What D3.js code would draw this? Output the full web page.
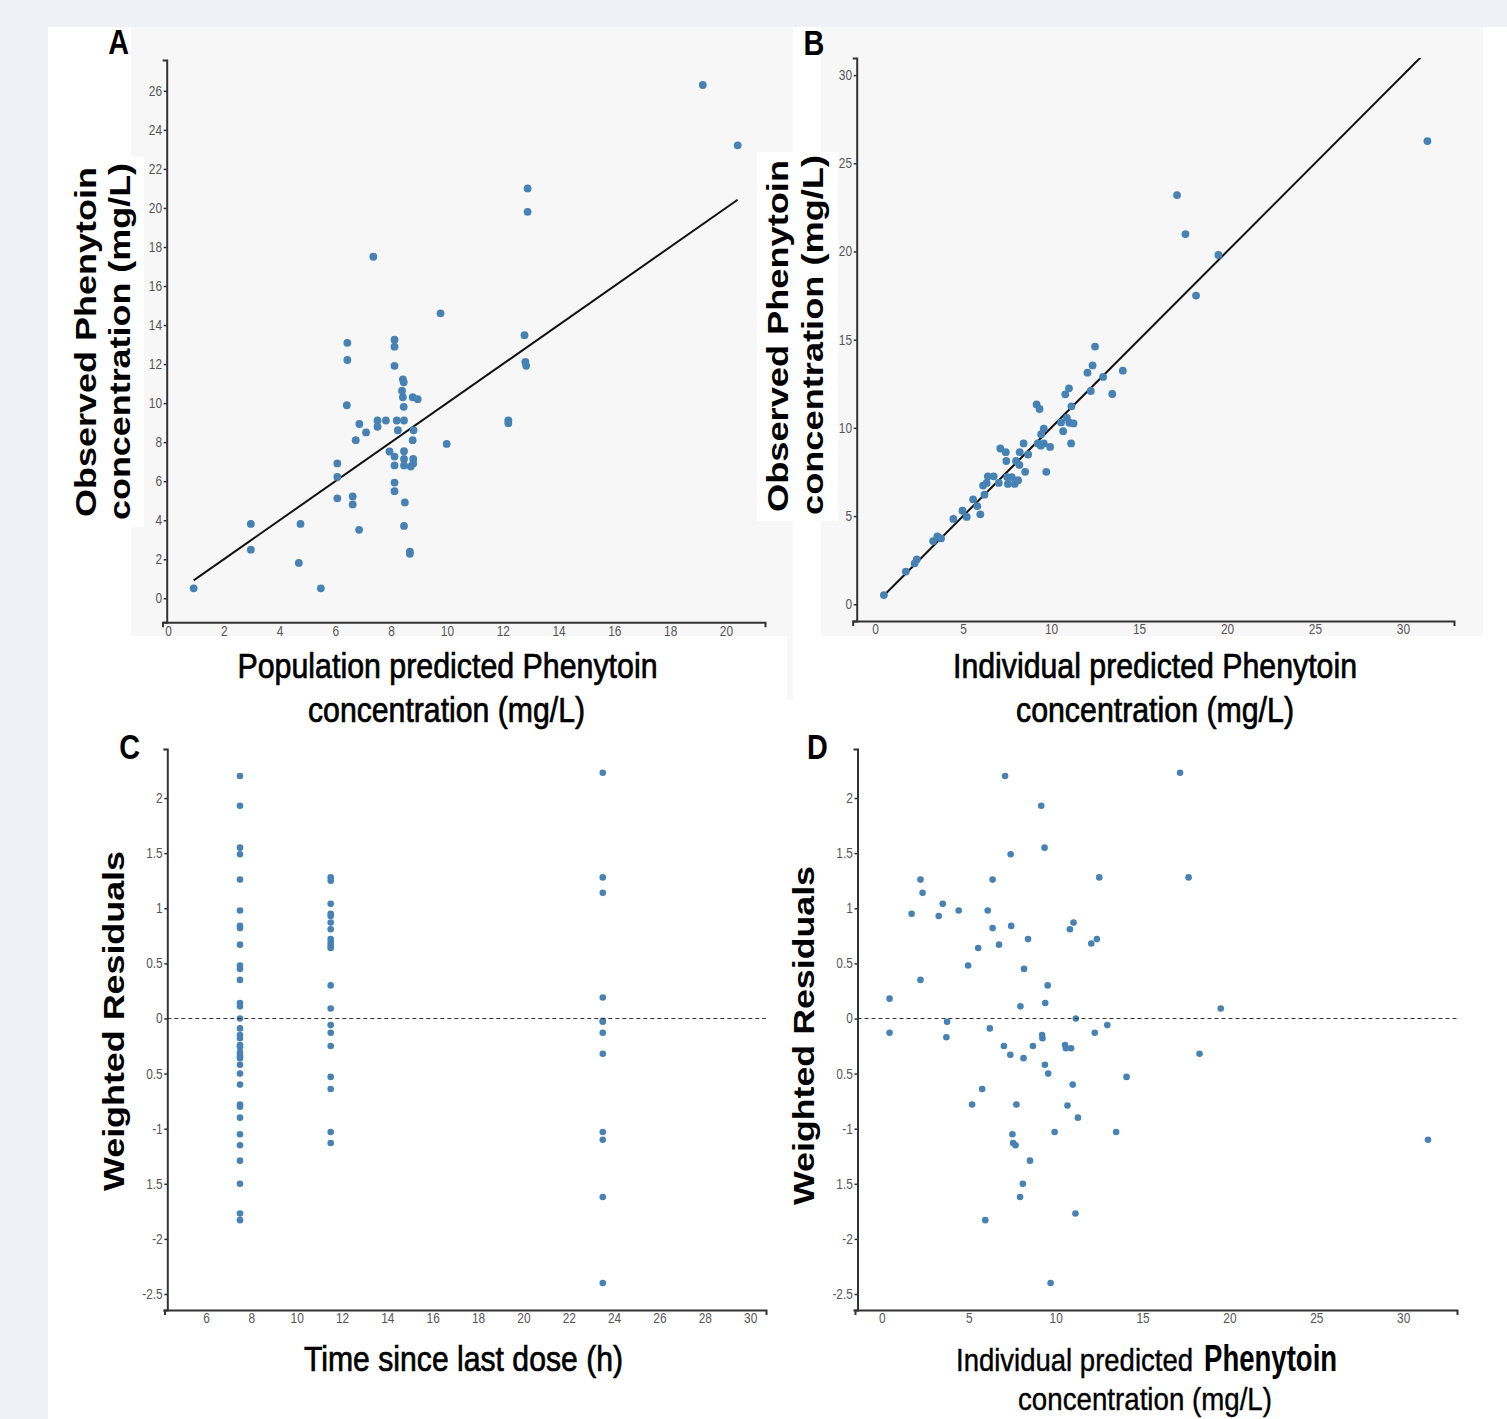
<!DOCTYPE html>
<html><head><meta charset="utf-8">
<script src="https://cdn.jsdelivr.net/npm/d3@7"></script>
<style>
html,body{margin:0;padding:0;background:#eff1f7;}
svg{display:block;}
</style></head><body>
<svg id="fig" width="1507" height="1419"></svg>
<script>
// ---------------- DATA ----------------
// Panel A: population predicted vs observed
const predA = [0.92,2.97,2.97,4.69,4.75,5.48,6.07,6.07,6.07,6.43,6.43,6.41,6.62,6.62,6.73,6.85,6.86,7.10,7.36,7.51,7.51,7.81,7.94,8.12,8.12,8.12,8.12,8.12,8.12,8.12,8.20,8.24,8.42,8.45,8.39,8.42,8.45,8.46,8.46,8.46,8.46,8.49,8.46,8.67,8.67,8.70,8.79,8.79,8.77,8.80,8.77,8.95,9.77,9.99,12.20,12.20,12.78,12.81,12.84,12.89,12.89,19.17,20.42];
const obsA  = [0.51,3.81,2.49,1.81,3.81,0.51,6.91,6.22,5.12,13.09,12.21,9.89,5.22,4.81,8.10,3.51,8.93,8.50,17.50,9.11,8.79,9.11,7.52,13.25,12.89,11.91,7.26,6.81,5.93,5.49,9.11,8.61,11.22,11.07,10.64,10.30,9.81,9.11,7.54,7.14,6.81,4.91,3.71,2.39,2.28,6.75,7.14,6.91,8.10,8.61,10.30,10.20,14.60,7.91,9.11,8.97,13.48,12.11,11.91,21.00,19.80,26.30,23.21];

// Panel B: individual predicted vs observed
const ipredB = [0.50,1.75,2.25,2.37,3.30,3.54,3.75,4.45,4.97,5.21,5.57,5.81,5.98,6.22,6.14,6.41,6.34,6.74,7.03,7.12,7.43,7.46,7.51,7.55,7.77,7.94,8.01,8.13,8.20,8.22,8.44,8.53,8.70,9.18,9.35,9.25,9.42,9.44,9.59,9.59,9.73,9.95,10.57,10.69,10.81,10.90,11.02,11.04,11.14,11.16,11.28,12.07,12.26,12.36,12.50,12.96,13.48,14.08,17.16,17.64,18.24,19.51,31.39];
const obsB   = [0.52,1.85,2.32,2.54,3.58,3.84,3.73,4.84,5.30,4.95,5.95,5.56,5.10,6.21,6.73,7.25,6.88,7.25,6.88,8.83,8.62,8.12,7.21,6.82,7.21,6.82,8.12,7.03,7.90,8.62,9.12,7.51,8.49,11.33,11.07,9.12,8.99,9.64,9.96,9.12,7.51,8.92,10.31,9.81,11.90,10.57,12.24,10.29,9.12,11.22,10.25,13.13,12.09,13.54,14.61,12.89,11.92,13.24,23.20,20.99,17.50,19.80,26.26];

// Panel C: weighted residuals by time since last dose (h)
const timeGroupsC = [7.5, 11.5, 23.5];
const wresC_7h  = [2.20,1.93,1.55,1.49,1.26,0.98,0.84,0.82,0.67,0.48,0.45,0.35,0.14,0.11,0.00,-0.09,-0.15,-0.18,-0.24,-0.26,-0.31,-0.34,-0.36,-0.42,-0.50,-0.60,-0.78,-0.80,-0.90,-1.05,-1.15,-1.29,-1.50,-1.77,-1.83];
const wresC_11h = [1.28,1.25,1.04,0.95,0.93,0.87,0.81,0.72,0.69,0.66,0.64,0.30,0.09,-0.06,-0.13,-0.25,-0.53,-0.64,-1.03,-1.13];
const wresC_23h = [2.23,1.28,1.14,0.19,-0.02,-0.03,-0.13,-0.32,-1.03,-1.10,-1.62,-2.40];

// Panel D: weighted residuals vs individual predicted
const ipredD = [0.44,0.44,1.71,2.22,2.34,2.22,3.27,3.50,3.75,3.71,4.42,4.96,5.19,5.54,5.77,5.95,6.09,6.21,6.37,6.37,6.74,7.02,7.09,7.41,7.44,7.39,7.51,7.55,7.69,7.74,7.97,7.95,8.11,8.18,8.15,8.41,8.52,8.69,9.17,9.22,9.24,9.36,9.38,9.40,9.54,9.57,9.71,9.94,10.54,10.59,10.68,10.82,10.89,10.98,11.03,11.14,11.16,11.28,12.05,12.25,12.37,12.51,12.97,13.48,14.08,17.16,17.65,18.28,19.50,31.43];
const wresD  = [0.18,-0.13,0.95,1.26,1.14,0.35,0.93,1.04,-0.03,-0.17,0.98,0.48,-0.78,0.64,-0.64,-1.83,0.98,-0.09,1.26,0.82,0.67,-0.25,2.20,1.49,0.84,-0.33,-1.05,-1.13,-1.15,-0.78,0.11,-1.62,-1.50,0.45,-0.36,0.72,-1.29,-0.25,1.93,-0.15,-0.18,1.55,-0.42,0.14,0.30,-0.50,-2.40,-1.03,-0.24,-0.27,-0.79,0.81,-0.27,-0.60,0.87,-1.77,0.00,-0.90,0.68,-0.13,0.72,1.28,-0.06,-1.03,-0.53,2.23,1.28,-0.32,0.09,-1.10];

// Tick values
const xTicksA = [0,2,4,6,8,10,12,14,16,18,20];
const yTicksA = [0,2,4,6,8,10,12,14,16,18,20,22,24,26];
const ticksB  = [0,5,10,15,20,25,30];
const xTicksC = [6,8,10,12,14,16,18,20,22,24,26,28,30];
const xTicksD = [0,5,10,15,20,25,30];
const yTicksRes = [-2.5,-2,-1.5,-1,-0.5,0,0.5,1,1.5,2];

// Texts
const panelLetters = ["A","B","C","D"];
const yTitleObs = ["Observed Phenytoin","concentration (mg/L)"];
const yTitleRes = "Weighted Residuals";
const xTitleA = ["Population predicted Phenytoin","concentration (mg/L)"];
const xTitleB = ["Individual predicted Phenytoin","concentration (mg/L)"];
const xTitleC = "Time since last dose (h)";
const xTitleD = ["Individual predicted","Phenytoin","concentration (mg/L)"];

// ---------------- DRAW ----------------
const FONT = "'Liberation Sans', Arial, Helvetica, sans-serif";
const svg = d3.select("#fig");
const DOT = "#4682b4";

// backgrounds
svg.append("rect").attr("x",48).attr("y",27).attr("width",1459).attr("height",1392).attr("fill","#fff");
svg.append("rect").attr("x",131).attr("y",27).attr("width",662).attr("height",609).attr("fill","#f7f7f7");
svg.append("rect").attr("x",787).attr("y",636).attr("width",6).attr("height",64).attr("fill","#f7f7f7");
svg.append("rect").attr("x",821).attr("y",27).attr("width",662).attr("height",609).attr("fill","#f7f7f7");

const fmt = d => String(d);
let clipId = 0;

function panel(cfg) {
  const x = d3.scaleLinear().domain(cfg.xDomain).range(cfg.xRange);
  const y = d3.scaleLinear().domain(cfg.yDomain).range(cfg.yRange);
  const g = svg.append("g");

  const id = "clip" + (clipId++);
  g.append("clipPath").attr("id", id).append("rect")
    .attr("x", cfg.yAxisX).attr("y", cfg.yRange[1])
    .attr("width", cfg.xRange[1] - cfg.yAxisX).attr("height", cfg.yRange[0] - cfg.yRange[1]);

  const xa = g.append("g").attr("transform", `translate(0,${cfg.yRange[0]})`)
    .call(d3.axisBottom(x).tickValues(cfg.xTicks).tickFormat(fmt)
      .tickSizeInner(0).tickSizeOuter(5).tickPadding(3.5));
  const ya = g.append("g").attr("transform", `translate(${cfg.yAxisX},0)`)
    .call(d3.axisLeft(y).tickValues(cfg.yTicks).tickFormat(fmt)
      .tickSizeInner(3).tickSizeOuter(4).tickPadding(2));
  [xa, ya].forEach(a => {
    a.attr("font-family", FONT).attr("font-size", 14);
    a.select(".domain").attr("stroke", "#333").attr("stroke-width", 2);
    a.selectAll(".tick line").attr("stroke", "#333").attr("stroke-width", 1.5);
    a.selectAll(".tick text").attr("fill", "#555").attr("transform", "scale(0.85,1)");
  });
  ya.selectAll(".tick text").attr("x", -4.6 / 0.85);

  const body = g.append("g").attr("clip-path", `url(#${id})`);

  if (cfg.identity) {
    const ext = d3.extent(cfg.xs);
    body.append("path")
      .datum(ext)
      .attr("d", d3.line().x(d => x(d)).y(d => y(d)))
      .attr("stroke", "#111").attr("stroke-width", 2).attr("fill", "none");
  }
  if (cfg.zeroLine) {
    g.append("line")
      .attr("x1", cfg.yAxisX).attr("x2", cfg.xRange[1])
      .attr("y1", y(0)).attr("y2", y(0))
      .attr("stroke", "#333").attr("stroke-width", 1.2).attr("stroke-dasharray", "4,3");
  }
  body.selectAll("circle").data(d3.zip(cfg.xs, cfg.ys)).join("circle")
    .attr("cx", d => x(d[0])).attr("cy", d => y(d[1]))
    .attr("r", cfg.r).attr("fill", DOT);
}

// Panel A
panel({
  xs: predA, ys: obsA, identity: true, r: 3.9,
  xDomain: [-0.197, 21.4], xRange: [162.5, 765],
  yDomain: [-1.23, 27.58], yRange: [622.3, 60],
  yAxisX: 166.7, xTicks: xTicksA, yTicks: yTicksA
});
// Panel B
panel({
  xs: ipredB, ys: obsB, identity: true, r: 3.9,
  xDomain: [-1.27, 32.9], xRange: [852.7, 1454],
  yDomain: [-0.95, 30.97], yRange: [621, 58],
  yAxisX: 856.7, xTicks: ticksB, yTicks: ticksB
});
// Panel C
const timeC = [], wresC = [];
[wresC_7h, wresC_11h, wresC_23h].forEach((arr, i) => arr.forEach(v => { timeC.push(timeGroupsC[i]); wresC.push(v); }));
panel({
  xs: timeC, ys: wresC, zeroLine: true, r: 3.3,
  xDomain: [4.17, 30.7], xRange: [164.5, 766],
  yDomain: [-2.645, 2.445], yRange: [1310, 749],
  yAxisX: 167.3, xTicks: xTicksC, yTicks: yTicksRes
});
// Panel D
panel({
  xs: ipredD, ys: wresD, zeroLine: true, r: 3.3,
  xDomain: [-1.55, 33.1], xRange: [855, 1457],
  yDomain: [-2.645, 2.445], yRange: [1310, 749],
  yAxisX: 857.5, xTicks: xTicksD, yTicks: yTicksRes
});

// white label boxes (as in the source figure)
svg.append("rect").attr("x",48).attr("y",157).attr("width",96).attr("height",370).attr("fill","#fff");
svg.append("rect").attr("x",757).attr("y",152).attr("width",81).attr("height",369).attr("fill","#fff");
svg.append("rect").attr("x",90).attr("y",845).attr("width",56).attr("height",355).attr("fill","#fff");
svg.append("rect").attr("x",780).attr("y",855).attr("width",56.5).attr("height",360).attr("fill","#fff");

// rotated y titles
function yTitle(txt, bx, cy, len) {
  svg.append("text").text(txt)
    .attr("transform", `translate(${bx},${cy}) scale(0.8,1) rotate(-90)`)
    .attr("text-anchor", "middle").attr("font-family", FONT).attr("font-weight", "bold")
    .attr("font-size", 36).attr("fill", "#000")
    .attr("textLength", len).attr("lengthAdjust", "spacingAndGlyphs");
}
yTitle(yTitleObs[0], 96, 342, 350);
yTitle(yTitleObs[1], 130, 341.5, 357);
yTitle(yTitleObs[0], 788, 336, 352);
yTitle(yTitleObs[1], 822.5, 335, 360);
yTitle(yTitleRes, 123.5, 1021, 340);
yTitle(yTitleRes, 814, 1035.5, 339);

// horizontal x titles
function xTitle(txt, x, base, len, size, anchor, weight, sw) {
  return svg.append("text").text(txt)
    .attr("x", x).attr("y", base).attr("text-anchor", anchor || "middle")
    .attr("font-family", FONT).attr("font-size", size).attr("fill", "#000")
    .attr("font-weight", weight || "normal")
    .attr("stroke", "#000").attr("stroke-width", sw == null ? 0.7 : sw)
    .attr("textLength", len).attr("lengthAdjust", "spacingAndGlyphs");
}
xTitle(xTitleA[0], 447.5, 678, 420, 35);
xTitle(xTitleA[1], 446.5, 722, 277, 35);
xTitle(xTitleB[0], 1155, 678, 404, 35);
xTitle(xTitleB[1], 1155, 722, 278, 35);
xTitle(xTitleC, 463.5, 1371, 319, 35);
// D title: "Individual predicted" smaller, "Phenytoin" larger/bolder (compressed horizontally by transform)
svg.append("text").text(xTitleD[0])
  .attr("transform", "translate(956,1371) scale(0.86,1)")
  .attr("font-family", FONT).attr("font-size", 32).attr("fill", "#000")
  .attr("stroke", "#000").attr("stroke-width", 0.45);
svg.append("text").text(xTitleD[1])
  .attr("transform", "translate(1204,1371) scale(0.745,1)")
  .attr("font-family", FONT).attr("font-size", 37).attr("font-weight", "bold").attr("fill", "#000");
xTitle(xTitleD[2], 1145, 1410, 254, 32, "middle", "normal", 0.4);

// panel letters
const letterPos = [[118.7, 54], [813.8, 55], [129.7, 759], [817.5, 759]];
panelLetters.forEach((L, i) => {
  svg.append("text").text(L)
    .attr("transform", `translate(${letterPos[i][0]},${letterPos[i][1]}) scale(0.8,1)`)
    .attr("text-anchor", "middle").attr("font-family", FONT).attr("font-weight", "bold")
    .attr("font-size", 36).attr("fill", "#000");
});
</script>
</body></html>
